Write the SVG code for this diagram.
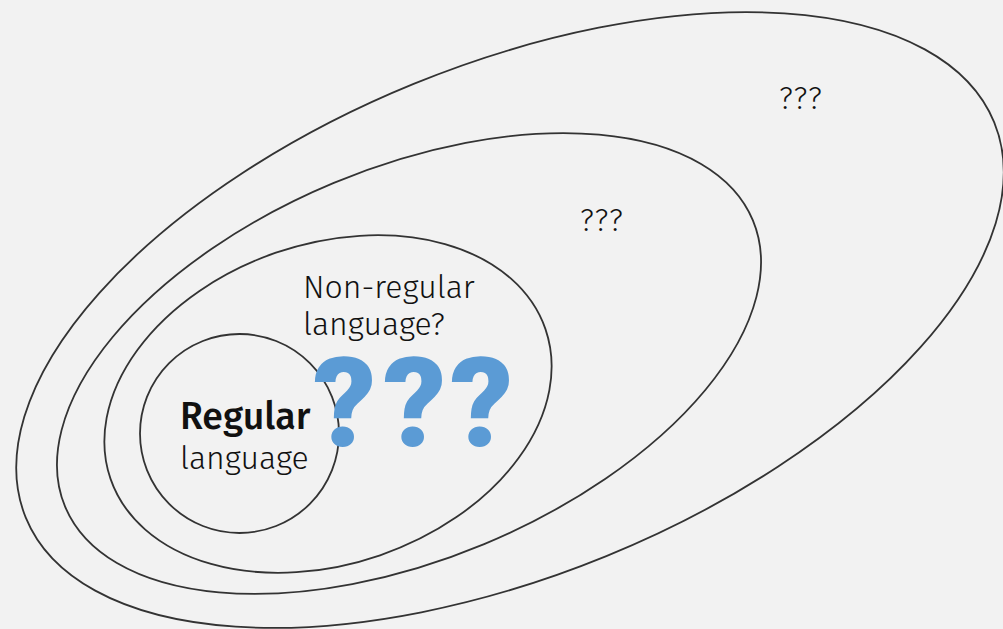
<svg xmlns="http://www.w3.org/2000/svg" width="1003" height="629" viewBox="0 0 1003 629">
<style>
.set{fill:none;stroke:#333;stroke-width:1.8}
.t{font-family:"Fira Sans","Open Sans","Noto Sans",sans-serif;fill:#111}
.light{font-weight:300}
.small{font-family:"Fira Sans","Open Sans",sans-serif;font-weight:300;font-size:31px;letter-spacing:2px;fill:#111}
.q{font-family:Roboto,"Noto Sans",sans-serif;font-weight:900;fill:#5b9bd5;font-size:124px}
</style>
<rect width="1003" height="629" fill="#f2f2f2"/>
<g id="outer-set">
<ellipse class="set" cx="510" cy="320" rx="523" ry="255" transform="rotate(-22.2 510 320)"/>
<text class="small" x="779" y="109">???</text>
</g>
<g id="middle-set">
<ellipse class="set" cx="409" cy="363.5" rx="372.5" ry="195.6" transform="rotate(-22.6 409 363.5)"/>
<text class="small" x="580" y="231">???</text>
</g>
<g id="non-regular">
<ellipse class="set" cx="328" cy="404" rx="230" ry="160" transform="rotate(-19 328 404)"/>
<text class="t light" x="303" y="298" font-size="32">Non-regular</text>
<text class="t light" x="303" y="335" font-size="32">language?</text>
</g>
<g id="regular">
<circle class="set" cx="239.5" cy="433.5" r="99.5"/>
<text class="t" x="180" y="429" font-size="37.5" font-weight="500">Regular</text>
<text class="t light" x="180" y="469" font-size="32">language</text>
</g>
<g id="big-questions">
<text class="q" x="313" y="446">?</text>
<text class="q" x="383" y="446">?</text>
<text class="q" x="450" y="446">?</text>
</g>
<g id="connectors"/>
</svg>
